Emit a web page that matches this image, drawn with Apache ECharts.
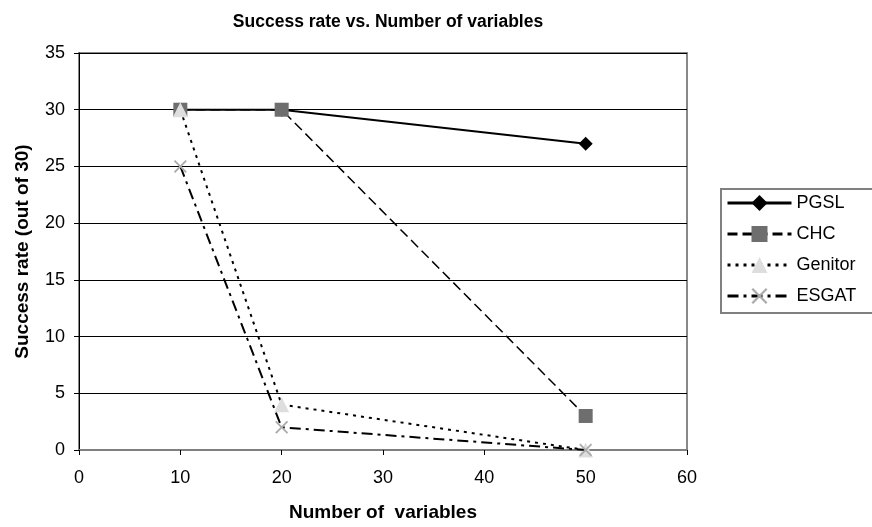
<!DOCTYPE html>
<html>
<head>
<meta charset="utf-8">
<script src="https://cdn.jsdelivr.net/npm/echarts@6/dist/echarts.min.js"></script>
<style>
  html, body { margin: 0; padding: 0; background: #fff; }
  #chart { width: 872px; height: 527px; }
</style>
</head>
<body>
<div id="chart"></div>
<script>
// Number of variables on the x axis
const variables = [10, 20, 50];

// Successful runs out of 30 for each algorithm
const pgsl    = [30, 30, 27];
const chc     = [30, 30, 3];
const genitor = [30, 4, 0];
const esgat   = [25, 2, 0];

const xTicks = { min: 0, max: 60, interval: 10 };
const yTicks = { min: 0, max: 35, interval: 5 };

const FONT = '"Liberation Sans", Arial, sans-serif';
const crossPath = 'path://M1,0 L5,4 L9,0 L10,1 L6,5 L10,9 L9,10 L5,6 L1,10 L0,9 L4,5 L0,1 Z';

function pairs(ys) {
  return variables.map((x, i) => [x, ys[i]]);
}

const chart = echarts.init(document.getElementById('chart'), null, { renderer: 'canvas' });

chart.setOption({
  animation: false,
  backgroundColor: '#ffffff',
  textStyle: { fontFamily: FONT },
  title: {
    text: 'Success rate vs. Number of variables',
    left: 383,
    textAlign: 'center',
    top: 8,
    textStyle: { fontFamily: FONT, fontSize: 17.5, fontWeight: 'bold', color: '#000' }
  },
  grid: {
    left: 79, right: 185, top: 53, bottom: 77,
    show: true,
    borderColor: '#888888',
    borderWidth: 2,
    backgroundColor: 'transparent'
  },
  legend: {
    orient: 'vertical',
    left: 726,
    top: 193,
    itemWidth: 64,
    itemHeight: 20,
    itemGap: 11,
    padding: 0,
    lineStyle: { width: 3 },
    textStyle: { fontFamily: FONT, fontSize: 18, lineHeight: 20, color: '#000' },
    data: ['PGSL', 'CHC', 'Genitor', 'ESGAT']
  },
  graphic: [{
    type: 'rect',
    shape: { x: 721, y: 189, width: 200, height: 124 },
    style: { fill: 'none', stroke: '#808080', lineWidth: 2 },
    z: 0
  }],
  xAxis: {
    type: 'value',
    min: xTicks.min, max: xTicks.max, interval: xTicks.interval,
    name: 'Number of  variables',
    nameLocation: 'middle',
    nameGap: 53,
    nameTextStyle: { fontFamily: FONT, fontSize: 19, fontWeight: 'bold', color: '#000' },
    axisLine: { show: true, onZero: false, lineStyle: { color: '#808080', width: 2 } },
    axisTick: { show: true, inside: false, length: 5, lineStyle: { color: '#000', width: 1 } },
    axisLabel: { fontFamily: FONT, fontSize: 18, color: '#000', margin: 19 },
    splitLine: { show: false }
  },
  yAxis: {
    type: 'value',
    min: yTicks.min, max: yTicks.max, interval: yTicks.interval,
    name: 'Success rate (out of 30)',
    nameLocation: 'middle',
    nameGap: 47,
    nameTextStyle: { fontFamily: FONT, fontSize: 19, fontWeight: 'bold', color: '#000' },
    axisLine: { show: true, onZero: false, lineStyle: { color: '#000', width: 1 } },
    axisTick: { show: true, inside: false, length: 5, lineStyle: { color: '#000', width: 1 } },
    axisLabel: { fontFamily: FONT, fontSize: 18, color: '#000', margin: 14 },
    splitLine: { show: true, lineStyle: { color: '#000', width: 1 } }
  },
  series: [
    {
      name: 'PGSL', type: 'line', data: pairs(pgsl), z: 2,
      symbol: 'diamond', symbolSize: 14,
      itemStyle: { color: '#000' },
      lineStyle: { color: '#000', width: 2, type: 'solid' }
    },
    {
      name: 'CHC', type: 'line', data: pairs(chc), z: 3,
      symbol: 'rect', symbolSize: 14,
      itemStyle: { color: '#6e6e6e' },
      lineStyle: { color: '#000', width: 1.5, type: [10, 5] }
    },
    {
      name: 'Genitor', type: 'line', data: pairs(genitor), z: 4,
      symbol: 'triangle', symbolSize: 15,
      itemStyle: { color: '#dedede' },
      lineStyle: { color: '#000', width: 2, type: [3, 5] }
    },
    {
      name: 'ESGAT', type: 'line', data: pairs(esgat), z: 5,
      symbol: crossPath, symbolSize: 13,
      itemStyle: { color: '#ababab' },
      lineStyle: { color: '#000', width: 2, type: [11, 5, 3, 5] }
    }
  ]
});
</script>
</body>
</html>
